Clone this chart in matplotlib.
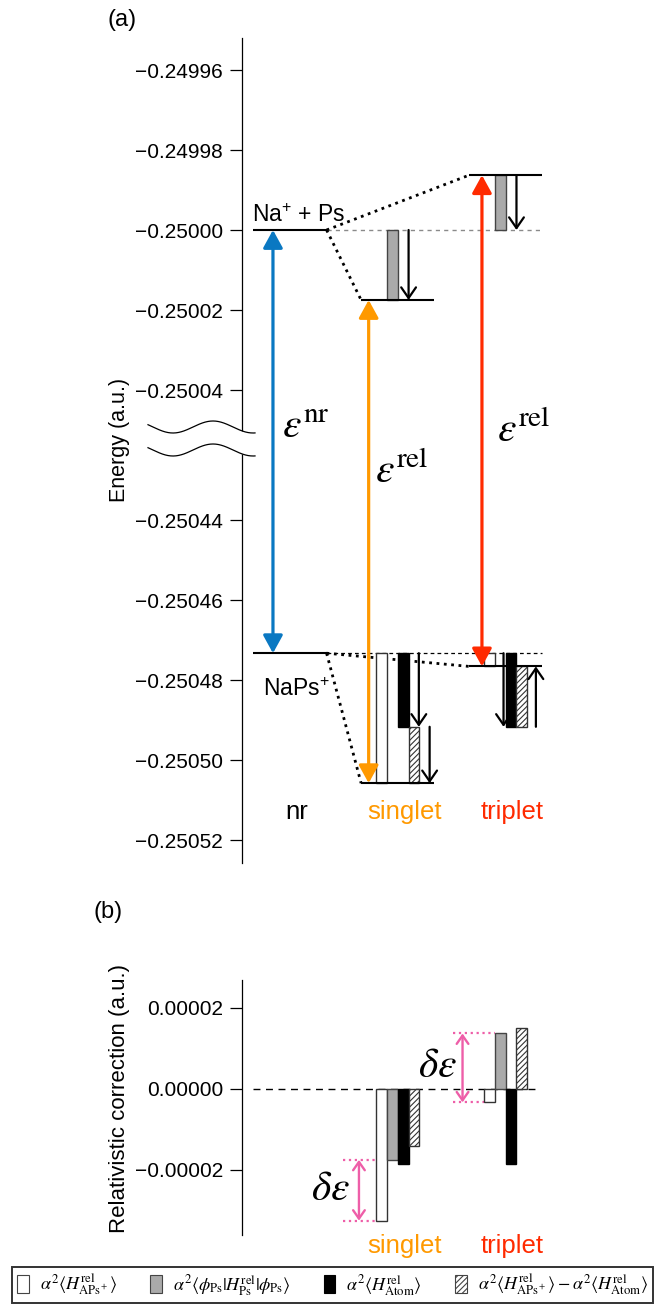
import numpy as np
import matplotlib
matplotlib.use('Agg')
import matplotlib.pyplot as plt
from matplotlib.patches import Patch
from matplotlib.ticker import FuncFormatter, FixedLocator, NullLocator
import matplotlib.transforms as mtransforms

plt.rcParams['font.family'] = ['Liberation Sans', 'DejaVu Sans']
plt.rcParams['mathtext.fontset'] = 'stix'
plt.rcParams['mathtext.rm'] = 'Liberation Sans'
plt.rcParams['mathtext.it'] = 'Liberation Sans:italic'
plt.rcParams['mathtext.bf'] = 'Liberation Sans:bold'
plt.rcParams['hatch.linewidth'] = 0.8

# ---------------- data ----------------
columns = ['nr', 'singlet', 'triplet']
column_colors = ['black', '#ff9900', '#ff2a00']
arrow_colors = ['#0a78c2', '#ff9900', '#ff2a00']
E_threshold_nr = -0.25000      # Na+ + Ps
E_bound_nr = -0.2504733        # NaPs+
# relativistic corrections (singlet, triplet)
corr_APs = [-3.25e-5, -0.33e-5]      # alpha^2 <H_APs+>
corr_Ps = [-1.75e-5, 1.37e-5]        # alpha^2 <phi|H_Ps|phi>
corr_Atom = [-1.84e-5, -1.84e-5]     # alpha^2 <H_Atom>
corr_diff = [-1.41e-5, 1.51e-5]      # <H_APs+> - <H_Atom>
energy_ticks = [-0.24996, -0.24998, -0.25000, -0.25002, -0.25004,
                -0.25044, -0.25046, -0.25048, -0.25050, -0.25052]
corr_ticks = [0.00002, 0.00000, -0.00002]
legend_labels = [
    r'$\alpha^2\langle H^{\mathrm{rel}}_{\mathrm{APs^+}}\rangle$',
    r'$\alpha^2\langle \phi_{\mathrm{Ps}}|H^{\mathrm{rel}}_{\mathrm{Ps}}|\phi_{\mathrm{Ps}}\rangle$',
    r'$\alpha^2\langle H^{\mathrm{rel}}_{\mathrm{Atom}}\rangle$',
    r'$\alpha^2\langle H^{\mathrm{rel}}_{\mathrm{APs^+}}\rangle - \alpha^2\langle H^{\mathrm{rel}}_{\mathrm{Atom}}\rangle$',
]

# ---------------- broken energy scale ----------------
BRK_HI, BRK_LO = -0.25004, -0.25044
GAP = 3.25e-5
SHIFT = (BRK_HI - BRK_LO) - GAP


def fwd(y):
    y = np.asarray(y, float)
    mid = BRK_HI + (y - BRK_HI) * GAP / (BRK_HI - BRK_LO)
    return np.where(y >= BRK_HI, y, np.where(y <= BRK_LO, y + SHIFT, mid))


def inv(z):
    z = np.asarray(z, float)
    mid = BRK_HI + (z - BRK_HI) * (BRK_HI - BRK_LO) / GAP
    return np.where(z >= BRK_HI, z, np.where(z <= BRK_LO + SHIFT, z - SHIFT, mid))


W, H = 656, 1305
fig = plt.figure(figsize=(W / 100, H / 100), dpi=100)
px = mtransforms.Affine2D().scale(1 / W, -1 / H).translate(0, 1) + fig.transFigure

axa = fig.add_axes([242 / W, 442 / H, 350 / W, 825 / H])
axb = fig.add_axes([242 / W, 70 / H, 350 / W, 255 / H])

fmt = FuncFormatter(lambda v, p: f"{v:.5f}".replace('-', '\u2212'))
for ax in (axa, axb):
    for s in ('top', 'right', 'bottom'):
        ax.spines[s].set_visible(False)
    ax.spines['left'].set_linewidth(0.9)
    ax.set_xticks([])
    ax.set_xlim(-0.444, 2.8)
    ax.tick_params(axis='y', direction='out', length=8.5, width=0.9,
                   labelsize=15, pad=5)

axa.set_yscale('function', functions=(fwd, inv))
axa.set_ylim(-0.25052575, -0.249952)
axa.yaxis.set_major_locator(FixedLocator(energy_ticks))
axa.yaxis.set_minor_locator(NullLocator())
axa.yaxis.set_major_formatter(fmt)

axb.set_ylim(-0.00003605, 0.0000269)
axb.yaxis.set_major_locator(FixedLocator(corr_ticks))
axb.yaxis.set_major_formatter(fmt)

axa.set_ylabel('Energy (a.u.)', fontsize=15.5, va='center')
axa.yaxis.set_label_coords(-0.3486, 0.5127)
axb.set_ylabel('Relativistic correction (a.u.)', fontsize=16, va='center')
axb.yaxis.set_label_coords(-0.3486, 0.537)

fig.text(122 / W, 1 - 20 / H, '(a)', fontsize=17, ha='center', va='center')
fig.text(108 / W, 1 - 912 / H, '(b)', fontsize=17, ha='center', va='center')

# axis break decoration
xs = np.linspace(148, 255, 200)
wave_up = 427 - 6 * np.cos(2 * np.pi * (xs - 213) / 80)
wave_lo = wave_up + 23
axa.fill_between(xs, wave_up, wave_lo, color='white', transform=px,
                 clip_on=False, zorder=5, lw=0)
axa.plot(xs, wave_up, color='black', lw=0.9, transform=px, clip_on=False, zorder=6)
axa.plot(xs, wave_lo, color='black', lw=0.9, transform=px, clip_on=False, zorder=6)


def arrow(ax, x, y0, y1, color, lw, style, ms, z=4):
    ax.annotate('', xy=(x, y1), xytext=(x, y0),
                arrowprops=dict(arrowstyle=style, color=color, lw=lw,
                                shrinkA=0, shrinkB=0, mutation_scale=ms),
                zorder=z, annotation_clip=False)


HALF = 0.34
BW = 0.1
OFF = [-0.15, -0.05, 0.05, 0.15]
big_style = '<|-|>,head_length=0.6,head_width=0.33'
small_style = '->,head_length=0.55,head_width=0.38'

# --- panel (a) levels ---
thr = [E_threshold_nr] + [E_threshold_nr + c for c in corr_Ps]
bnd = [E_bound_nr] + [E_bound_nr + c for c in corr_APs]
for i in range(3):
    axa.plot([i - HALF, i + HALF], [thr[i], thr[i]], color='black', lw=1.5,
             solid_capstyle='butt', zorder=3)
    axa.plot([i - HALF, i + HALF], [bnd[i], bnd[i]], color='black', lw=1.5,
             solid_capstyle='butt', zorder=3)
# reference lines
axa.plot([HALF, 2 + HALF], [E_threshold_nr] * 2, color='#8a8a8a', lw=1,
         ls=(0, (3, 3)), zorder=1)
axa.plot([HALF, 2 + HALF], [E_bound_nr] * 2, color='black', lw=0.9,
         ls=(0, (3, 2.5)), zorder=1)
# correlation dotted lines
for i in (1, 2):
    axa.plot([HALF, i - HALF], [thr[0], thr[i]], color='black', lw=2.0,
             ls=':', zorder=1)
    axa.plot([HALF, i - HALF], [bnd[0], bnd[i]], color='black', lw=2.0,
             ls=':', zorder=1)

# bars in (a)
for k, c in enumerate([1, 2]):
    axa.bar(c + OFF[0], corr_APs[k], bottom=E_bound_nr, width=BW,
            facecolor='white', edgecolor='#333333', lw=1, zorder=2)
    axa.bar(c + OFF[1], corr_Ps[k], bottom=E_threshold_nr, width=BW,
            facecolor='#aaaaaa', edgecolor='#444444', lw=1, zorder=2)
    axa.bar(c + OFF[2], corr_Atom[k], bottom=E_bound_nr, width=BW,
            facecolor='black', edgecolor='black', lw=1, zorder=2)
    axa.bar(c + OFF[3], corr_diff[k], bottom=E_bound_nr + corr_Atom[k], width=BW,
            facecolor='white', edgecolor='#333333', lw=1, hatch='//////', zorder=2)
    # gray arrow: always downward along gray bar
    top = max(E_threshold_nr, E_threshold_nr + corr_Ps[k])
    bot = min(E_threshold_nr, E_threshold_nr + corr_Ps[k])
    arrow(axa, c + 0.10, top, bot, 'black', 1.6, small_style, 14, z=3)

# singlet black/hatch arrows
arrow(axa, 1 + 0.195, E_bound_nr, E_bound_nr + corr_Atom[0], 'black', 1.6, small_style, 14, z=3)
arrow(axa, 1 + 0.295, E_bound_nr + corr_Atom[0], E_bound_nr + corr_Atom[0] + corr_diff[0],
      'black', 1.6, small_style, 14, z=3)
# triplet black/hatch arrows
arrow(axa, 2 - 0.02, E_bound_nr, E_bound_nr + corr_Atom[1], 'black', 1.6, small_style, 14, z=1.5)
arrow(axa, 2 + 0.28, E_bound_nr + corr_Atom[1], E_bound_nr + corr_Atom[1] + corr_diff[1],
      'black', 1.6, small_style, 14, z=3)

# big arrows
big_x = [-0.157, -0.27, -0.22]
for i in range(3):
    arrow(axa, i + big_x[i], thr[i], bnd[i], arrow_colors[i], 2.3, big_style, 18, z=4)

# texts in (a)
axa.text(-0.352, -0.249998, 'Na$^{\\mathrm{+}}$ + Ps', fontsize=16.5,
         ha='left', va='baseline', math_fontfamily='custom')
axa.text(-0.25, -0.2504795, 'NaPs$^{\\mathrm{+}}$', fontsize=16.5,
         ha='left', va='top', math_fontfamily='custom')
bl = mtransforms.blended_transform_factory(axa.transData, axa.transAxes)
axa.text(-0.074, 0.515, r'$\varepsilon^{\mathrm{nr}}$', fontsize=30, transform=bl,
         ha='left', va='baseline')
axa.text(1 - 0.21, 0.4606, r'$\varepsilon^{\mathrm{rel}}$', fontsize=30, transform=bl,
         ha='left', va='baseline')
axa.text(2 - 0.083, 0.5103, r'$\varepsilon^{\mathrm{rel}}$', fontsize=30, transform=bl,
         ha='left', va='baseline')
for i, name in enumerate(columns):
    axa.text(i + 0.06, -0.2505148, name, color=column_colors[i], fontsize=18.5,
             ha='center', va='baseline')

# --- panel (b) ---
axb.plot([-HALF, 2 + 0.31], [0, 0], color='black', lw=1.0, ls=(0, (5, 4)), zorder=1)
for k, c in enumerate([1, 2]):
    axb.bar(c + OFF[0], corr_APs[k], width=BW, facecolor='white',
            edgecolor='#333333', lw=1, zorder=2)
    axb.bar(c + OFF[1], corr_Ps[k], width=BW, facecolor='#aaaaaa',
            edgecolor='#444444', lw=1, zorder=2)
    axb.bar(c + OFF[2], corr_Atom[k], width=BW, facecolor='black',
            edgecolor='black', lw=1, zorder=2)
    axb.bar(c + OFF[3], corr_diff[k], width=BW, facecolor='white',
            edgecolor='#333333', lw=1, hatch='//////', zorder=2)
    axb.text(c + 0.06, -0.0000405, columns[c], color=column_colors[c], fontsize=18.5,
             ha='center', va='baseline', clip_on=False)

pink = '#ee5ea8'
pink_x0 = [-0.51, -0.49]
pink_ax = [-0.36, -0.40]
de_x = [-0.80, -0.81]
de_y = [-2.74e-5, 2.96e-6]
for k, c in enumerate([1, 2]):
    axb.plot([c + pink_x0[k], c - 0.1], [corr_Ps[k]] * 2, color=pink, lw=1.6, ls=':', zorder=1)
    axb.plot([c + pink_x0[k], c - 0.2], [corr_APs[k]] * 2, color=pink, lw=1.6, ls=':', zorder=1)
    arrow(axb, c + pink_ax[k], corr_Ps[k], corr_APs[k], pink, 1.7,
          '<->,head_length=0.5,head_width=0.35', 12, z=3)
    axb.text(c + de_x[k], de_y[k], r'$\delta\varepsilon$', fontsize=30,
             ha='left', va='baseline')

# legend
handles = [
    Patch(facecolor='white', edgecolor='#444444', lw=0.8),
    Patch(facecolor='#aaaaaa', edgecolor='#444444', lw=0.8),
    Patch(facecolor='black', edgecolor='black', lw=0.8),
    Patch(facecolor='white', edgecolor='#444444', lw=0.8, hatch='//////'),
]
leg = fig.legend(handles, legend_labels, loc='lower left',
                 bbox_to_anchor=(12 / W, 2 / H, 641 / W, 34 / H), mode='expand',
                 ncol=4, fontsize=13, frameon=True, fancybox=False,
                 edgecolor='black', handlelength=0.65, handleheight=1.1,
                 handletextpad=0.6, columnspacing=0.8, borderaxespad=0,
                 borderpad=0.3)
leg.get_frame().set_linewidth(1.4)

fig.savefig('out.png', dpi=100)
